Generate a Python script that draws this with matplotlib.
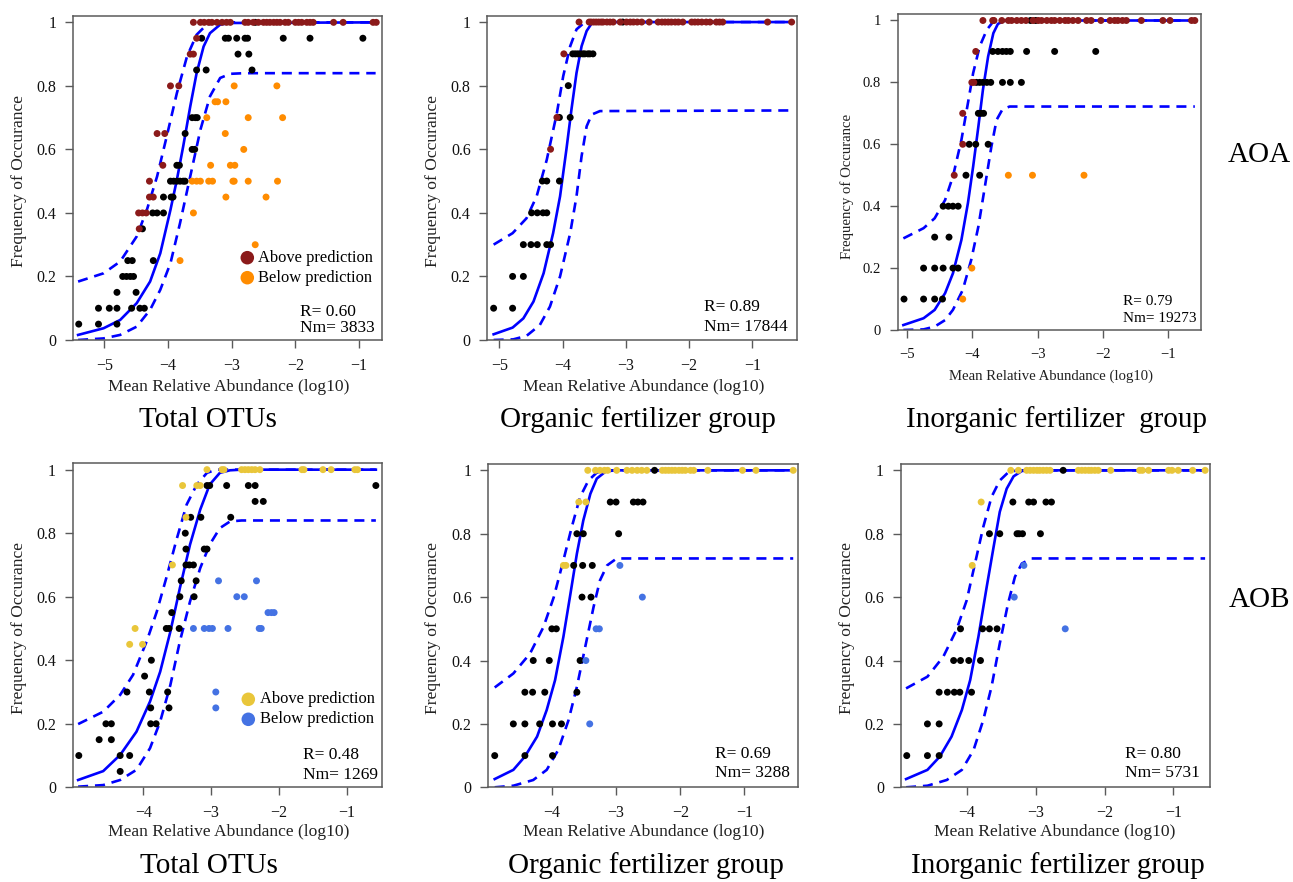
import matplotlib
matplotlib.use("Agg")
import matplotlib.pyplot as plt

plt.rcParams['font.family'] = ['Liberation Serif', 'DejaVu Serif']

# ---------------- DATA (frequency level -> list of log10 mean abundances) ----------------
# AOA, Total OTUs
aoa_total_above = {1.0: [-3.60, -3.49, -3.43, -3.36, -3.31, -3.23, -3.15, -3.08, -3.02, -2.79, -2.74, -2.66, -2.58,
                         -2.50, -2.45, -2.40, -2.34, -2.29, -2.24, -2.16, -2.11, -2.00, -1.95, -1.90, -1.82, -1.77,
                         -1.72, -1.40, -1.25, -0.78, -0.73],
                   0.95: [-3.55], 0.9: [-3.65, -3.60], 0.8: [-3.96, -3.83], 0.65: [-4.17, -4.05],
                   0.55: [-4.08], 0.5: [-4.29], 0.45: [-4.29, -4.23], 0.4: [-4.46, -4.40, -4.34], 0.35: [-4.45]}
aoa_total_neutral = {1.0: [-2.63],
                     0.95: [-3.47, -3.10, -3.05, -2.92, -2.79, -2.75, -2.19, -1.77, -0.94],
                     0.9: [-2.90, -2.73], 0.85: [-3.55, -3.40, -2.68], 0.7: [-3.62, -3.57, -3.54],
                     0.65: [-3.73], 0.6: [-3.62, -3.58], 0.55: [-3.86, -3.82],
                     0.5: [-3.96, -3.91, -3.86, -3.81, -3.76, -3.73], 0.45: [-4.07, -3.95, -3.92],
                     0.4: [-4.24, -4.17, -4.07], 0.35: [-4.40], 0.25: [-4.63, -4.56, -4.23],
                     0.2: [-4.71, -4.65, -4.59, -4.54], 0.15: [-4.80, -4.50],
                     0.1: [-5.09, -4.92, -4.80, -4.57, -4.44, -4.37], 0.05: [-5.40, -5.09, -4.80]}
aoa_total_below = {0.8: [-2.96, -2.29], 0.75: [-3.26, -3.22, -3.09], 0.7: [-3.39, -2.74, -2.20],
                   0.65: [-3.10], 0.6: [-2.81], 0.55: [-3.33, -3.02, -2.95],
                   0.5: [-3.62, -3.55, -3.49, -3.36, -3.30, -2.98, -2.96, -2.74, -2.28],
                   0.45: [-3.09, -2.46], 0.4: [-3.60], 0.3: [-2.63], 0.25: [-3.81]}
aoa_total_fit_x = [-5.41, -5.01, -4.75, -4.49, -4.28, -4.12, -3.96, -3.86, -3.76, -3.65, -3.55, -3.44, -3.34, -3.18, -3.02, -0.74]
aoa_total_fit_y = [0.016, 0.037, 0.063, 0.116, 0.184, 0.273, 0.41, 0.504, 0.61, 0.735, 0.84, 0.924, 0.966, 0.993, 0.998, 1.0]
aoa_total_up_x = [-5.41, -5.01, -4.75, -4.49, -4.33, -4.17, -4.02, -3.86, -3.70, -3.55, -3.39, -3.20, -0.74]
aoa_total_up_y = [0.184, 0.21, 0.247, 0.326, 0.41, 0.515, 0.64, 0.777, 0.893, 0.961, 0.993, 1.0, 1.0]
aoa_total_lo_x = [-5.41, -5.01, -4.75, -4.49, -4.28, -4.12, -3.96, -3.81, -3.65, -3.49, -3.34, -3.18, -3.02, -2.80, -0.74]
aoa_total_lo_y = [0.0, 0.005, 0.016, 0.042, 0.095, 0.158, 0.242, 0.368, 0.515, 0.662, 0.767, 0.825, 0.838, 0.84, 0.84]

# AOA, Organic fertilizer group
aoa_org_above = {1.0: [-3.74, -3.58, -3.55, -3.51, -3.47, -3.43, -3.39, -3.36, -3.30, -3.25, -3.20, -3.09, -2.99,
                       -2.93, -2.88, -2.82, -2.75, -2.63, -2.49, -2.43, -2.38, -2.33, -2.28, -2.22, -2.17, -2.10,
                       -1.96, -1.91, -1.86, -1.80, -1.73, -1.67, -1.57, -1.52, -1.47, -0.76, -0.38],
                 0.9: [-3.98], 0.7: [-4.09], 0.6: [-4.19]}
aoa_org_neutral = {1.0: [-3.05], 0.9: [-3.84, -3.80, -3.76, -3.72, -3.68, -3.65, -3.60, -3.57, -3.52],
                   0.8: [-3.91], 0.7: [-4.05, -3.88], 0.5: [-4.32, -4.25, -4.05],
                   0.4: [-4.49, -4.40, -4.31, -4.25], 0.3: [-4.62, -4.50, -4.40, -4.25, -4.19],
                   0.2: [-4.79, -4.62], 0.1: [-5.09, -4.79]}
aoa_org_below = {}
aoa_org_fit_x = [-5.09, -4.79, -4.62, -4.46, -4.30, -4.15, -4.04, -3.94, -3.86, -3.78, -3.70, -3.62, -3.54, -3.41, -0.38]
aoa_org_fit_y = [0.018, 0.039, 0.068, 0.121, 0.21, 0.336, 0.452, 0.599, 0.725, 0.84, 0.924, 0.972, 0.996, 1.0, 1.0]
aoa_org_up_x = [-5.09, -4.79, -4.57, -4.41, -4.25, -4.09, -3.99, -3.88, -3.78, -3.67, -3.50, -0.38]
aoa_org_up_y = [0.30, 0.336, 0.383, 0.452, 0.567, 0.714, 0.83, 0.924, 0.977, 0.996, 1.0, 1.0]
aoa_org_lo_x = [-5.09, -4.78, -4.57, -4.36, -4.20, -4.04, -3.88, -3.78, -3.70, -3.62, -3.54, -3.41, -0.38]
aoa_org_lo_y = [0.0, 0.002, 0.013, 0.047, 0.105, 0.20, 0.336, 0.452, 0.578, 0.672, 0.709, 0.72, 0.722]

# AOA, Inorganic fertilizer group
aoa_inorg_above = {1.0: [-3.84, -3.69, -3.67, -3.55, -3.45, -3.40, -3.32, -3.25, -3.18, -3.07, -2.99, -2.94, -2.86,
                         -2.79, -2.74, -2.66, -2.58, -2.53, -2.46, -2.38, -2.25, -2.18, -2.03, -1.89, -1.82, -1.77,
                         -1.70, -1.64, -1.41, -1.08, -0.97, -0.64, -0.59],
                   0.9: [-3.95], 0.8: [-4.01, -3.98], 0.7: [-4.15], 0.6: [-4.15], 0.5: [-4.28]}
aoa_inorg_neutral = {1.0: [-3.11, -3.03],
                     0.9: [-3.69, -3.61, -3.54, -3.48, -3.42, -3.17, -2.74, -2.11],
                     0.8: [-3.94, -3.89, -3.84, -3.78, -3.72, -3.54, -3.42, -3.25],
                     0.7: [-3.91, -3.87, -3.83], 0.6: [-4.05, -3.95, -3.76], 0.5: [-4.10, -3.89],
                     0.4: [-4.45, -4.37, -4.30, -4.22], 0.3: [-4.58, -4.36],
                     0.2: [-4.75, -4.58, -4.45, -4.30, -4.22], 0.1: [-5.05, -4.75, -4.58, -4.46]}
aoa_inorg_below = {0.5: [-3.45, -3.08, -2.29], 0.2: [-4.01], 0.1: [-4.15]}
aoa_inorg_fit_x = [-5.06, -4.75, -4.58, -4.42, -4.30, -4.17, -4.07, -3.99, -3.91, -3.84, -3.76, -3.68, -3.61, -3.50, -0.59]
aoa_inorg_fit_y = [0.016, 0.038, 0.065, 0.119, 0.183, 0.291, 0.41, 0.528, 0.657, 0.776, 0.884, 0.959, 0.989, 1.0, 1.0]
aoa_inorg_up_x = [-5.06, -4.75, -4.58, -4.42, -4.30, -4.17, -4.07, -3.99, -3.89, -3.78, -3.68, -3.55, -0.59]
aoa_inorg_up_y = [0.296, 0.329, 0.361, 0.42, 0.496, 0.614, 0.733, 0.83, 0.916, 0.97, 0.997, 1.0, 1.0]
aoa_inorg_lo_x = [-5.06, -4.75, -4.58, -4.42, -4.30, -4.15, -4.02, -3.91, -3.81, -3.71, -3.63, -3.54, -3.43, -0.59]
aoa_inorg_lo_y = [0.0, 0.002, 0.011, 0.032, 0.065, 0.129, 0.226, 0.334, 0.463, 0.593, 0.679, 0.713, 0.722, 0.722]

# AOB, Total OTUs
aob_total_above = {1.0: [-3.06, -2.84, -2.81, -2.55, -2.50, -2.45, -2.40, -2.35, -2.28, -1.66, -1.63, -1.35, -1.23,
                         -0.88, -0.84],
                   0.95: [-3.42, -3.21, -3.16], 0.85: [-3.37], 0.7: [-3.57], 0.5: [-4.12], 0.45: [-4.20, -4.01]}
aob_total_neutral = {0.95: [-3.06, -3.02, -2.77, -2.45, -2.35, -0.57], 0.9: [-2.35, -2.23],
                     0.85: [-3.30, -3.15, -2.71], 0.8: [-3.38], 0.75: [-3.37, -3.10, -3.06],
                     0.7: [-3.37, -3.32, -3.26], 0.65: [-3.44, -3.22], 0.6: [-3.46, -3.25], 0.55: [-3.58],
                     0.5: [-3.66, -3.62, -3.47], 0.4: [-3.88], 0.35: [-3.98], 0.3: [-4.24, -3.91, -3.64],
                     0.25: [-3.89, -3.62], 0.2: [-4.55, -4.47, -3.89, -3.81], 0.15: [-4.65, -4.47],
                     0.1: [-4.95, -4.34, -4.20], 0.05: [-4.34]}
aob_total_below = {0.65: [-2.89, -2.33], 0.6: [-2.62, -2.51], 0.55: [-2.16, -2.11, -2.07],
                   0.5: [-3.26, -3.10, -3.03, -2.98, -2.75, -2.29, -2.26], 0.3: [-2.93], 0.25: [-2.93]}
aob_total_fit_x = [-4.96, -4.59, -4.34, -4.10, -3.90, -3.75, -3.60, -3.46, -3.31, -3.16, -3.02, -2.87, -2.72, -2.55, -0.57]
aob_total_fit_y = [0.023, 0.051, 0.102, 0.175, 0.27, 0.364, 0.49, 0.627, 0.764, 0.874, 0.953, 0.99, 0.998, 1.0, 1.0]
aob_total_up_x = [-4.96, -4.59, -4.34, -4.15, -3.95, -3.80, -3.66, -3.51, -3.36, -3.21, -3.06, -2.92, -0.57]
aob_total_up_y = [0.199, 0.238, 0.291, 0.354, 0.459, 0.553, 0.659, 0.779, 0.89, 0.953, 0.99, 1.0, 1.0]
aob_total_lo_x = [-4.96, -4.59, -4.34, -4.10, -3.90, -3.75, -3.60, -3.46, -3.31, -3.16, -3.02, -2.87, -2.72, -2.55, -0.57]
aob_total_lo_y = [0.002, 0.007, 0.023, 0.055, 0.123, 0.207, 0.322, 0.459, 0.585, 0.69, 0.764, 0.816, 0.837, 0.84, 0.84]

# AOB, Organic fertilizer group
aob_org_above = {1.0: [-3.44, -3.32, -3.25, -3.18, -3.13, -2.99, -2.83, -2.75, -2.67, -2.60, -2.52, -2.28, -2.23,
                       -2.18, -2.13, -2.08, -2.02, -1.97, -1.92, -1.84, -1.79, -1.57, -1.03, -0.82, -0.24],
                 0.9: [-3.58, -3.47], 0.7: [-3.82, -3.78]}
aob_org_neutral = {1.0: [-2.40], 0.9: [-3.09, -3.00, -2.73, -2.66, -2.58], 0.8: [-3.61, -3.51, -2.96],
                   0.7: [-3.66, -3.52, -3.37], 0.6: [-3.53, -3.39], 0.5: [-4.00, -3.93],
                   0.4: [-4.29, -4.04, -3.56], 0.3: [-4.42, -4.30, -4.11, -3.61],
                   0.2: [-4.60, -4.42, -4.19, -3.99, -3.85], 0.1: [-4.89, -4.42, -3.99]}
aob_org_below = {0.7: [-2.94], 0.6: [-2.59], 0.5: [-3.31, -3.26], 0.4: [-3.47], 0.2: [-3.41]}
aob_org_fit_x = [-4.89, -4.60, -4.42, -4.23, -4.08, -3.95, -3.82, -3.71, -3.61, -3.51, -3.40, -3.30, -3.17, -3.04, -0.24]
aob_org_fit_y = [0.026, 0.055, 0.097, 0.16, 0.244, 0.338, 0.475, 0.611, 0.737, 0.842, 0.926, 0.974, 0.995, 1.0, 1.0]
aob_org_up_x = [-4.89, -4.60, -4.34, -4.13, -3.97, -3.82, -3.69, -3.56, -3.43, -3.30, -3.17, -0.24]
aob_org_up_y = [0.315, 0.359, 0.422, 0.506, 0.60, 0.716, 0.821, 0.916, 0.968, 0.993, 1.0, 1.0]
aob_org_lo_x = [-4.89, -4.60, -4.29, -4.08, -3.90, -3.74, -3.61, -3.48, -3.35, -3.25, -3.14, -2.99, -0.24]
aob_org_lo_y = [0.0, 0.005, 0.023, 0.055, 0.118, 0.212, 0.317, 0.443, 0.569, 0.653, 0.70, 0.722, 0.722]

# AOB, Inorganic fertilizer group
aob_inorg_above = {1.0: [-3.36, -3.25, -3.13, -3.08, -3.03, -2.98, -2.94, -2.89, -2.84, -2.79, -2.38, -2.33, -2.28,
                         -2.23, -2.19, -2.14, -2.09, -1.91, -1.49, -1.45, -1.36, -1.07, -1.02, -0.93, -0.72, -0.54],
                   0.9: [-3.79], 0.7: [-3.92]}
aob_inorg_neutral = {1.0: [-2.60], 0.9: [-3.33, -3.10, -3.03, -2.85, -2.77],
                     0.8: [-3.67, -3.52, -3.27, -3.24, -3.19, -2.93], 0.5: [-4.09, -3.77, -3.67, -3.56],
                     0.4: [-4.19, -4.09, -3.97, -3.80], 0.3: [-4.40, -4.28, -4.18, -4.10, -3.93],
                     0.2: [-4.57, -4.40], 0.1: [-4.87, -4.57, -4.40]}
aob_inorg_below = {0.7: [-3.17], 0.6: [-3.31], 0.5: [-2.57]}
aob_inorg_fit_x = [-4.88, -4.57, -4.39, -4.22, -4.07, -3.95, -3.83, -3.71, -3.61, -3.52, -3.42, -3.32, -3.20, -3.05, -0.54]
aob_inorg_fit_y = [0.026, 0.055, 0.097, 0.16, 0.244, 0.338, 0.475, 0.632, 0.758, 0.869, 0.942, 0.981, 0.998, 1.0, 1.0]
aob_inorg_up_x = [-4.88, -4.57, -4.34, -4.15, -4.00, -3.88, -3.76, -3.64, -3.52, -3.40, -3.27, -0.54]
aob_inorg_up_y = [0.312, 0.349, 0.412, 0.496, 0.59, 0.706, 0.821, 0.916, 0.968, 0.993, 1.0, 1.0]
aob_inorg_lo_x = [-4.88, -4.57, -4.29, -4.07, -3.90, -3.76, -3.64, -3.52, -3.40, -3.30, -3.20, -3.06, -0.54]
aob_inorg_lo_y = [0.0, 0.005, 0.023, 0.055, 0.118, 0.212, 0.317, 0.454, 0.58, 0.664, 0.706, 0.722, 0.722]

r_values = ["0.60", "0.89", "0.79", "0.48", "0.69", "0.80"]
nm_values = ["3833", "17844", "19273", "1269", "3288", "5731"]
group_titles_top = ["Total OTUs", "Organic fertilizer group", "Inorganic fertilizer  group"]
group_titles_bottom = ["Total OTUs", "Organic fertilizer group", "Inorganic fertilizer group"]
row_labels = ["AOA", "AOB"]
legend_labels = ["Above prediction", "Below prediction"]
x_ticks_top = [-5, -4, -3, -2, -1]
x_ticks_bottom = [-4, -3, -2, -1]
y_ticks = [0, 0.2, 0.4, 0.6, 0.8, 1]
y_tick_labels = ["0", "0.2", "0.4", "0.6", "0.8", "1"]

# ---------------- STYLE ----------------
W, H = 1293, 882
AOA_ABOVE, AOA_BELOW = '#8B1A1A', '#FF8C00'
AOB_ABOVE, AOB_BELOW = '#E9C63A', '#4472E3'
LINE = '#0000FF'
FRAME = '#5a5a5a'
LW = 1.9
DASH = (3.8, 2.6)

fig = plt.figure(figsize=(W / 100, H / 100), dpi=100)


def fx(px):
    return px / W


def fy(py):
    return 1 - py / H


def expand(d):
    xs, ys = [], []
    for lvl, vals in d.items():
        xs += vals
        ys += [lvl] * len(vals)
    return xs, ys


panels = [
    dict(box=(73, 382, 16, 340), xlim=(-5.49, -0.64), xt=x_ticks_top,
         d=(aoa_total_above, aoa_total_neutral, aoa_total_below,
            aoa_total_fit_x, aoa_total_fit_y, aoa_total_up_x, aoa_total_up_y, aoa_total_lo_x, aoa_total_lo_y),
         col=(AOA_ABOVE, AOA_BELOW), fs=11.5, lfs=12.6, rn=(300, 311.7, 328.3), rfs=12.5,
         xl=(228.5, 387), yl=(19, 181), leg=(247.3, 257.7, 277.7, 258.3)),
    dict(box=(487.3, 796.7, 15.7, 340), xlim=(-5.19, -0.30), xt=x_ticks_top,
         d=(aoa_org_above, aoa_org_neutral, aoa_org_below,
            aoa_org_fit_x, aoa_org_fit_y, aoa_org_up_x, aoa_org_up_y, aoa_org_lo_x, aoa_org_lo_y),
         col=(AOA_ABOVE, AOA_BELOW), fs=11.5, lfs=12.6, rn=(704, 307.3, 327.3), rfs=12.5,
         xl=(644, 387), yl=(433.3, 181), leg=None),
    dict(box=(897.7, 1200.7, 14.3, 330), xlim=(-5.147, -0.50), xt=x_ticks_top,
         d=(aoa_inorg_above, aoa_inorg_neutral, aoa_inorg_below,
            aoa_inorg_fit_x, aoa_inorg_fit_y, aoa_inorg_up_x, aoa_inorg_up_y, aoa_inorg_lo_x, aoa_inorg_lo_y),
         col=(AOA_ABOVE, AOA_BELOW), fs=10.5, lfs=10.6, rn=(1122.7, 301.7, 318.3), rfs=11,
         xl=(1051, 376), yl=(846.7, 186.7), leg=None),
    dict(box=(72.7, 382.3, 463.3, 787.3), xlim=(-5.04, -0.475), xt=x_ticks_bottom,
         d=(aob_total_above, aob_total_neutral, aob_total_below,
            aob_total_fit_x, aob_total_fit_y, aob_total_up_x, aob_total_up_y, aob_total_lo_x, aob_total_lo_y),
         col=(AOB_ABOVE, AOB_BELOW), fs=11.5, lfs=12.6, rn=(302.7, 755, 775), rfs=12.5,
         xl=(229, 832), yl=(19, 627.5), leg=(248.3, 699.3, 719.3, 260)),
    dict(box=(488.3, 797.7, 464, 787.3), xlim=(-4.99, -0.17), xt=x_ticks_bottom,
         d=(aob_org_above, aob_org_neutral, aob_org_below,
            aob_org_fit_x, aob_org_fit_y, aob_org_up_x, aob_org_up_y, aob_org_lo_x, aob_org_lo_y),
         col=(AOB_ABOVE, AOB_BELOW), fs=11.5, lfs=12.6, rn=(715, 754.3, 772.7), rfs=12.5,
         xl=(644, 832), yl=(433.3, 627.5), leg=None),
    dict(box=(900.7, 1210, 464, 787.3), xlim=(-4.958, -0.469), xt=x_ticks_bottom,
         d=(aob_inorg_above, aob_inorg_neutral, aob_inorg_below,
            aob_inorg_fit_x, aob_inorg_fit_y, aob_inorg_up_x, aob_inorg_up_y, aob_inorg_lo_x, aob_inorg_lo_y),
         col=(AOB_ABOVE, AOB_BELOW), fs=11.5, lfs=12.6, rn=(1125, 754.3, 773.3), rfs=12.5,
         xl=(1055, 832), yl=(846.7, 627.5), leg=None),
]

for i, p in enumerate(panels):
    L, R, T, B = p['box']
    ax = fig.add_axes([fx(L), fy(B), (R - L) / W, (B - T) / H])
    above, neutral, below, fxs, fys, uxs, uys, lxs, lys = p['d']
    ax.plot(fxs, fys, color=LINE, lw=LW, solid_joinstyle='round', zorder=2)
    ax.plot(uxs, uys, color=LINE, lw=LW, dashes=DASH, zorder=2)
    ax.plot(lxs, lys, color=LINE, lw=LW, dashes=DASH, zorder=2)
    for dd, c in ((neutral, 'black'), (above, p['col'][0]), (below, p['col'][1])):
        xs, ys = expand(dd)
        if xs:
            ax.scatter(xs, ys, s=25, color=c, edgecolors='none', zorder=3)
    ax.set_xlim(*p['xlim'])
    ax.set_ylim(0, 1.02)
    ax.set_xticks(p['xt'])
    ax.set_xticklabels([f"\u2212{abs(t)}" for t in p['xt']])
    ax.set_yticks(y_ticks)
    ax.set_yticklabels(y_tick_labels)
    for s in ax.spines.values():
        s.set_color(FRAME)
        s.set_linewidth(1.1)
    ax.tick_params(axis='both', direction='out', length=6, width=1.0, color=FRAME,
                   labelsize=p['fs'], labelcolor='#111111')
    ax.tick_params(axis='x', pad=7)
    ax.tick_params(axis='y', pad=6)
    fig.text(fx(p['xl'][0]), fy(p['xl'][1]), "Mean Relative Abundance (log10)", fontsize=p['lfs'],
             ha='center', va='center', color='#222222')
    fig.text(fx(p['yl'][0]), fy(p['yl'][1]), "Frequency of Occurance", fontsize=p['lfs'],
             ha='center', va='center', rotation=90, color='#222222')
    rx, ry, ny = p['rn']
    fig.text(fx(rx), fy(ry), f"R= {r_values[i]}", fontsize=p['rfs'], ha='left', va='center')
    fig.text(fx(rx), fy(ny), f"Nm= {nm_values[i]}", fontsize=p['rfs'], ha='left', va='center')
    if p['leg'] is not None:
        cx, y1, y2, tx = p['leg']
        for yy, c, lab in ((y1, p['col'][0], legend_labels[0]), (y2, p['col'][1], legend_labels[1])):
            ax.scatter([(cx - L) / (R - L)], [(B - yy) / (B - T)], s=95, color=c, edgecolors='none',
                       transform=ax.transAxes, clip_on=False, zorder=4)
            fig.text(fx(tx), fy(yy), lab, fontsize=11.9, ha='left', va='center')

for cx, t in zip([208, 638, 1056], group_titles_top):
    fig.text(fx(cx), fy(420), t, fontsize=21, ha='center', va='center')
for cx, t in zip([209, 646, 1058], group_titles_bottom):
    fig.text(fx(cx), fy(866), t, fontsize=21, ha='center', va='center')
fig.text(fx(1259), fy(155), row_labels[0], fontsize=21, ha='center', va='center')
fig.text(fx(1259), fy(600), row_labels[1], fontsize=21, ha='center', va='center')

fig.savefig("out.png", dpi=100)
